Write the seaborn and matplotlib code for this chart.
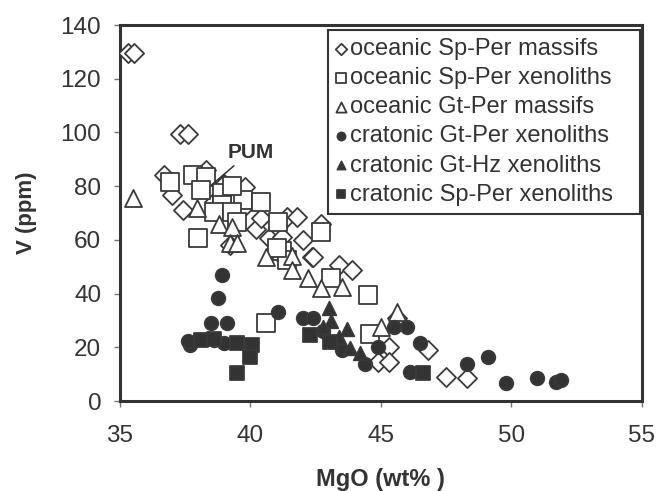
import matplotlib
matplotlib.use("Agg")
import matplotlib.pyplot as plt
import seaborn as sns
import pandas as pd

# oceanic Sp-Per massifs (open diamonds)
osm_mgo = [35.3, 35.55, 37.3, 37.6, 36.7, 37.0, 37.4, 38.3, 39.0, 39.8, 39.7, 40.2, 41.4, 41.8,
           40.7, 41.2, 42.35, 42.7, 43.4, 43.9, 42.4, 46.8, 45.3, 44.9, 45.3, 47.5, 48.3, 45.6,
           38.6, 39.2, 40.4, 41.0, 42.0]
osm_v = [129.6, 129.6, 99.6, 99.6, 84, 76.7, 71, 86, 81, 79.7, 72, 64, 68.5, 68.5,
         60.7, 61, 53.6, 66, 50.6, 48.8, 53.6, 19, 20, 14.5, 14.5, 9, 8.5, 31,
         74, 58, 68, 56, 60]

# oceanic Sp-Per xenoliths (open squares)
osx_mgo = [36.9, 37.8, 38.3, 38.1, 38.9, 38.9, 38.6, 39.7, 40.4, 39.3, 38.0, 39.5, 41.05, 42.7,
           41.2, 41.4, 43.1, 44.5, 41.0, 40.6, 44.6, 39.3]
osx_v = [81.5, 84, 83.4, 78.6, 77.4, 73, 70.4, 74.8, 74, 70.4, 60.7, 66.6, 66.6, 62.8,
         56, 52.5, 46, 39.5, 57, 29, 25, 80]

# oceanic Gt-Per massifs (open triangles)
ogm_mgo = [35.5, 37.95, 38.8, 39.3, 39.2, 39.5, 40.6, 41.6, 41.6, 42.2, 42.7, 43.5, 45.0, 45.6]
ogm_v = [75.6, 72, 66, 65, 59, 59, 53.5, 54, 49, 46, 42, 42.5, 27.5, 33]

# cratonic Gt-Per xenoliths (filled circles)
cgp_mgo = [38.9, 38.75, 38.5, 39.1, 37.7, 38.6, 39.0, 41.05, 42.0, 42.4, 45.5, 46.0, 44.9, 44.4,
           46.5, 46.1, 48.3, 49.1, 49.8, 51.0, 51.7, 51.9, 43.5, 42.8, 37.6]
cgp_v = [47, 38.4, 29, 29, 20.8, 22.7, 21.6, 33, 31, 31, 27.5, 27.5, 20, 14,
         21.6, 11, 14, 16.5, 6.7, 8.5, 7.2, 7.8, 19, 26, 22.5]

# cratonic Gt-Hz xenoliths (filled triangles)
cgh_mgo = [43.0, 43.1, 43.7, 42.8, 43.8, 44.2, 43.4]
cgh_v = [34.6, 30, 27, 27.5, 19.7, 18, 24]

# cratonic Sp-Per xenoliths (filled squares)
csp_mgo = [38.1, 39.5, 40.05, 40.0, 39.5, 42.3, 43.05, 46.6, 38.6]
csp_v = [22.7, 21.6, 21, 16.5, 10.4, 24.5, 22, 10.4, 23]

# primitive upper mantle reference point
pum_mgo, pum_v = 38.5, 80.4

groups = [
    ("oceanic Sp-Per massifs", osm_mgo, osm_v, "D", "white", 95),
    ("oceanic Sp-Per xenoliths", osx_mgo, osx_v, "s", "white", 150),
    ("oceanic Gt-Per massifs", ogm_mgo, ogm_v, "^", "white", 150),
    ("cratonic Gt-Per xenoliths", cgp_mgo, cgp_v, "o", "#333333", 95),
    ("cratonic Gt-Hz xenoliths", cgh_mgo, cgh_v, "^", "#333333", 95),
    ("cratonic Sp-Per xenoliths", csp_mgo, csp_v, "s", "#333333", 95),
]

sns.set_style("white")
plt.rcParams["font.family"] = ["Liberation Sans", "DejaVu Sans"]

fig = plt.figure(figsize=(6.59, 4.91), dpi=100)
ax = fig.add_axes([0.182, 0.183, 0.792, 0.766])

for name, xs, ys, mk, fc, sz in groups:
    df = pd.DataFrame({"MgO": xs, "V": ys})
    sns.scatterplot(data=df, x="MgO", y="V", ax=ax, marker=mk, s=sz,
                    facecolor=fc, edgecolor="#3a3a3a", linewidth=1.3, label=name, zorder=3)

# PUM label and pointer
ax.annotate("PUM", xy=(pum_mgo, pum_v), xytext=(40.0, 92.7), fontsize=15, fontweight="bold",
            color="#333333", ha="center", va="center", zorder=6,
            arrowprops=dict(arrowstyle="-", color="#333333", lw=1.1, shrinkA=1, shrinkB=0,
                            relpos=(0.25, 0.0)))

ax.set_xlim(35, 55)
ax.set_ylim(0, 140)
ax.set_xticks([35, 40, 45, 50, 55])
ax.set_yticks(range(0, 141, 20))
ax.tick_params(axis="both", direction="out", length=4.5, width=1, colors="#777777",
               labelsize=17.5, labelcolor="#333333", bottom=True, left=True)
ax.tick_params(axis="x", pad=13)
ax.tick_params(axis="y", pad=9)
for sp in ax.spines.values():
    sp.set_linewidth(2.2)
    sp.set_color("#333333")

ax.set_xlabel("MgO (wt% )", fontsize=17, fontweight="bold", color="#333333", labelpad=15)
ax.set_ylabel("V (ppm)", fontsize=16, fontweight="bold", color="#333333", labelpad=17)

leg = ax.legend(loc="upper left", bbox_to_anchor=(0.398, 0.495, 0.598, 0.492), mode="expand",
                fontsize=17, markerscale=0.6, handletextpad=0.15, handlelength=0.45,
                labelspacing=0.3, borderpad=0.35, borderaxespad=0,
                fancybox=False, framealpha=1, edgecolor="#333333")
leg.get_frame().set_linewidth(1.5)
for t in leg.get_texts():
    t.set_color("#333333")

fig.savefig("out.png", dpi=100)
